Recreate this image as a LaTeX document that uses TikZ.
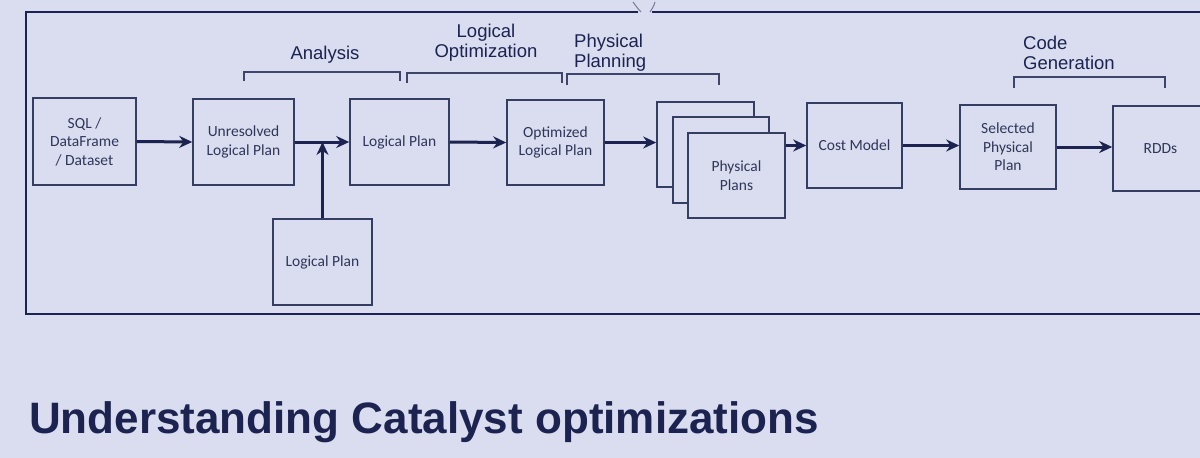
\documentclass[tikz,border=0pt]{standalone}
\usepackage{fontspec}
\setmainfont{Liberation Sans}
\newfontfamily\boxfont{Carlito}
\usetikzlibrary{arrows.meta}
\definecolor{bg}{HTML}{D9DDEF}
\definecolor{ink}{HTML}{1C2350}
\definecolor{boxline}{HTML}{353D62}
\definecolor{boxtext}{HTML}{30365A}
\tikzset{
  box/.style={draw=boxline, line width=1.6pt, inner sep=0pt, align=center, text=boxtext,
    font=\boxfont\fontsize{15.5}{18.5}\selectfont},
  arr/.style={draw=ink, line width=3pt, -{Stealth[length=13pt,width=12pt]}},
  brk/.style={draw=ink!85, line width=1.8pt},
  lab/.style={text=ink, inner sep=0pt, font=\fontsize{18.5}{20}\selectfont},
  frame/.style={draw=ink, line width=2.8pt},
}
\begin{document}
\begin{tikzpicture}[x=1pt,y=-1pt]
\fill[bg] (0,0) rectangle (1200,458);
\useasboundingbox (0,0) rectangle (1200,458);
% outer frame
\draw[frame] (638,12) -- (26,12) -- (26,314) -- (1215,314);
\draw[frame] (652,12) -- (1215,12);
\draw[ink!60, line width=1pt] (633,2) .. controls (636,6) and (638,9) .. (641,12);
\draw[ink!60, line width=1pt] (655,2) .. controls (654,6) and (652,9) .. (650,12);
% boxes
\node[box, minimum width=103pt, minimum height=87pt] (sql) at (84.5,141.5) {SQL /\\DataFrame\\/ Dataset};
\node[box, minimum width=101pt, minimum height=86pt] (unres) at (243.5,142) {Unresolved\\Logical Plan};
\node[box, minimum width=99pt, minimum height=86pt] (lp) at (399.5,142) {Logical Plan};
\node[box, minimum width=99pt, minimum height=86pt] (lp2) at (322.5,262) {Logical Plan};
\node[box, minimum width=97pt, minimum height=85pt] (opt) at (555.5,142.5) {Optimized\\Logical Plan};
\node[box, fill=bg, minimum width=97pt, minimum height=85pt] (pp1) at (705.5,144.5) {};
\node[box, fill=bg, minimum width=96pt, minimum height=86pt] (pp2) at (721,160) {};
\node[box, fill=bg, minimum width=97pt, minimum height=85pt] (pp3) at (736.5,175.5) {Physical\\Plans};
\node[box, minimum width=95pt, minimum height=85pt] (cost) at (854.5,145.5) {Cost Model};
\node[box, minimum width=96pt, minimum height=84pt] (sel) at (1008,147) {Selected\\Physical\\Plan};
\node[box, minimum width=95pt, minimum height=85pt] (rdd) at (1160.5,148.5) {RDDs};
% arrows
\draw[arr] (sql.east) -- (unres.west);
\draw[arr] (unres.east) -- (lp.west);
\draw[arr] (lp2.north) -- (lp2.north |- unres.east);
\draw[arr] (lp.east) -- (opt.west);
\draw[arr] (opt.east) -- (opt.east -| pp1.west);
\draw[arr] (pp3.east |- cost.west) -- (cost.west);
\draw[arr] (cost.east) -- (cost.east -| sel.west);
\draw[arr] (sel.east) -- (sel.east -| rdd.west);
% brackets
\draw[brk] (244,81) -- (244,72) -- (400,72) -- (400,81);
\draw[brk] (407,83) -- (407,73) -- (562,73) -- (562,83);
\draw[brk] (567,85) -- (567,74) -- (719,74) -- (719,85);
\draw[brk] (1014,88) -- (1014,77) -- (1165,77) -- (1165,88);
% labels
\node[lab] (tana) at (325,55) {Analysis};
\node[lab, align=center] (tlo) at (486,43) {Logical\\Optimization};
\node[lab, align=left, anchor=west] (tpp) at (574,52.5) {Physical\\Planning};
\node[lab, align=left, anchor=west] (tcg) at (1023,53) {Code\\Generation};
% title
\node[text=ink, inner sep=0pt, anchor=base west, font=\bfseries\fontsize{44}{48}\selectfont] (title) at (29,433) {Understanding Catalyst optimizations};
\end{tikzpicture}
\end{document}
